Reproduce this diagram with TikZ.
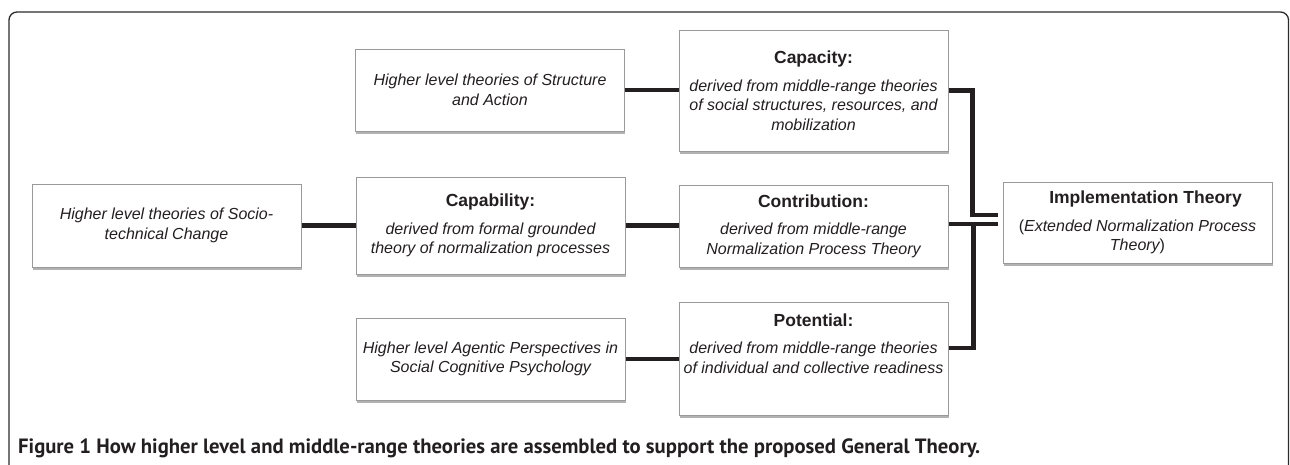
\documentclass[tikz,border=0pt]{standalone}
\usepackage{fontspec}
\setmainfont{Liberation Sans}
\newfontfamily\capfont{PT Sans}
\usetikzlibrary{shadows}
\definecolor{boxgray}{HTML}{9A9A9A}
\definecolor{ink}{HTML}{231F20}
\definecolor{framec}{HTML}{2B2B2B}
\newcommand{\boxtitle}[1]{{\upshape\bfseries\fontsize{17.5}{19.5}\selectfont #1}}
\tikzset{
  thbox/.style={draw=boxgray, line width=1pt, fill=white, minimum width=269pt,
    inner sep=0pt, align=center, text=ink,
    font=\fontsize{16}{19.5}\selectfont\itshape,
    drop shadow={shadow xshift=0.6pt, shadow yshift=-2.8pt, fill=black, opacity=0.3}},
  conn/.style={line width=4.8pt, draw=ink},
  frameline/.style={line width=1.3pt, draw=framec, rounded corners=8pt}
}
\begin{document}
\begin{tikzpicture}[x=1pt,y=-1pt]
\useasboundingbox (0,0) rectangle (1290,464);
\draw[frameline] (9,480) -- (9,12) -- (1288.5,12) -- (1288.5,480);

\node[thbox, minimum height=83pt] (soc) at (166.5,225.5)
  {Higher level theories of Socio-\\technical Change};
\node[thbox, minimum height=82pt] (str) at (490,90)
  {Higher level theories of Structure\\and Action};
\node[thbox, minimum height=97pt] (cbl) at (490.5,225.5)
  {\boxtitle{Capability:}\\[8pt]derived from formal grounded\\theory of normalization processes};
\node[thbox, minimum height=82pt] (agt) at (490.5,359)
  {Higher level Agentic Perspectives in\\Social Cognitive Psychology};
\node[thbox, minimum height=121pt] (cap) at (813.5,90.5)
  {\boxtitle{Capacity:}\\[8pt]derived from middle-range theories\\of social structures, resources, and\\mobilization};
\node[thbox, minimum height=82pt] (con) at (813.5,226)
  {\boxtitle{Contribution:}\\[8pt]derived from middle-range\\Normalization Process Theory};
\node[thbox, minimum height=113pt] (pot) at (813.5,358.5)
  {\boxtitle{Potential:}\\[8pt]derived from middle-range theories\\of individual and collective readiness\\\rule{0pt}{29pt}};
\node[thbox, minimum height=81pt] (imp) at (1137.5,222.5)
  {\hspace*{16pt}\boxtitle{Implementation Theory}\\[8pt]{\upshape(}Extended Normalization Process\hspace*{24pt}\\Theory{\upshape)}};

\coordinate (j1) at ([xshift=-5pt,yshift=7.5pt]imp.west);
\coordinate (j2) at ([xshift=-5pt,yshift=-1.5pt]imp.west);

\draw[conn] (soc.east) -- (soc.east -| cbl.west);
\draw[conn] (str.east) -- (str.east -| cap.west);
\draw[conn] (cbl.east) -- (cbl.east -| con.west);
\draw[conn] (agt.east) -- (agt.east -| pot.west);
\draw[conn] (cap.east) -- ++(24,0) |- (j1);
\draw[conn] (con.east |- j2) -- (j2);
\draw[conn] ([yshift=10.5pt]pot.east) -- ++(25,0) |- (j2);

\node[anchor=west, text=ink, inner sep=0pt] (cap1) at (18,448)
  {\resizebox{962pt}{!}{\capfont\bfseries\fontsize{19}{22}\selectfont Figure 1 How higher level and middle-range theories are assembled to support the proposed General Theory.}};
\end{tikzpicture}
\end{document}
